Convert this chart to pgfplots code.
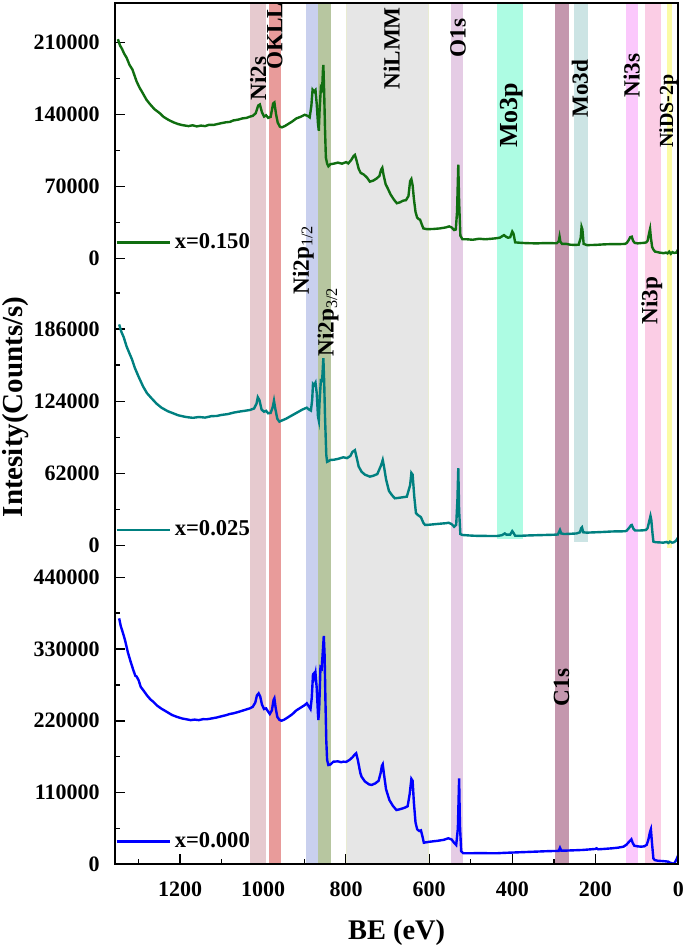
\documentclass[border=0pt]{standalone}
\usepackage{pgfplots}
\pgfplotsset{compat=1.18}
\usepackage{fontspec}
\setmainfont{Liberation Serif}

\definecolor{bNiTwoS}{HTML}{E6CACF}
\definecolor{bOKLL}{HTML}{E89B9A}
\definecolor{bNiPa}{HTML}{C9D0EE}
\definecolor{bNiPb}{HTML}{B7C6A0}
\definecolor{bLMM}{HTML}{E6E6E6}
\definecolor{bLMMedge}{HTML}{E9ECD2}
\definecolor{bOs}{HTML}{E5CCE5}
\definecolor{bMoP}{HTML}{ADFCE3}
\definecolor{bCs}{HTML}{C497AE}
\definecolor{bMoD}{HTML}{CCE4E4}
\definecolor{bNiThS}{HTML}{FBC8FC}
\definecolor{bNiThP}{HTML}{FBCDE5}
\definecolor{bDS}{HTML}{FBFBA5}
\definecolor{cgreen}{RGB}{16,110,16}
\definecolor{cteal}{RGB}{0,128,128}
\definecolor{cblue}{RGB}{0,0,255}

\newcommand{\band}[3]{\addplot[fill=#3, draw=none, forget plot] coordinates {(#1,-1e6) (#1,1e6) (#2,1e6) (#2,-1e6)} -- cycle;}
\newcommand{\bandlo}[4]{\addplot[fill=#4, draw=none, forget plot] coordinates {(#1,#3) (#1,1e6) (#2,1e6) (#2,#3)} -- cycle;}

\tikzset{blab/.style={rotate=90, anchor=west, inner sep=0pt, font=\bfseries\fontsize{11.6}{11.6}\selectfont}}

\pgfplotsset{
  panel/.style={
    scale only axis, width=281.65pt,
    xmin=0, xmax=1357, x dir=reverse,
    scaled x ticks=false, scaled y ticks=false,
    axis line style={draw=none},
    tick align=inside, xtick pos=bottom, ytick pos=left,
    major tick length=5pt, minor tick length=2.5pt,
    every tick/.style={black, line width=0.75pt},
    yticklabel style={inner sep=0pt, xshift=-7.5pt, font=\bfseries\fontsize{11}{11}\selectfont},
    xticklabel style={inner sep=0pt, yshift=-8.7pt, font=\bfseries\fontsize{11}{11}\selectfont},
    legend style={draw=none, fill=none, inner xsep=0pt, inner ysep=0pt, anchor=west,
      font=\bfseries\fontsize{11.3}{11.3}\selectfont},
    legend image code/.code={\draw[##1, line width=1.2pt] (0pt,0pt) -- (26.5pt,0pt);},
  },
}

\begin{document}
\begin{tikzpicture}
\useasboundingbox (-57.5pt,-42.35pt) rectangle (285pt,432.15pt);

% ---------------- top panel ----------------
\begin{axis}[panel, at={(0,292.15pt)}, anchor=south west, height=138.5pt,
  ymin=-21097, ymax=248203, xtick=\empty,
  ytick={0,70000,140000,210000}, yticklabels={0,70000,140000,210000},
  minor ytick={35000,105000,175000},
  legend style={at={(rel axis cs:0,0.136)}}]
\band{1032}{994}{bNiTwoS}
\band{987}{957}{bOKLL}
\band{898}{868}{bNiPa}
\band{867}{837}{bNiPb}
\addplot[fill=bLMM, draw=bLMMedge, line width=0.6pt, forget plot] coordinates {(799,-1e6) (799,1e6) (602,1e6) (602,-1e6)} -- cycle;
\band{548}{518}{bOs}
\band{436}{375}{bMoP}
\band{296}{263}{bCs}
\band{251}{217}{bMoD}
\band{127}{97}{bNiThS}
\band{80}{42}{bNiThP}
\band{28}{16}{bDS}
\addplot[cgreen, line width=1.2pt] table {
1350 213000
1345 207000
1340 203500
1335 199000
1329 195000
1322 188000
1315 183500
1305 172000
1298 166000
1290 160500
1281 154000
1272 149500
1262 145000
1249 141000
1240 137500
1228 134500
1215 132000
1205 130500
1195 129500
1180 128500
1170 129300
1160 128200
1150 129000
1140 128500
1130 129800
1120 129600
1105 131000
1090 132200
1080 132600
1072 134000
1060 134800
1050 136000
1040 136500
1032 137700
1025 138500
1018 141000
1012 148500
1008 149500
1003 142000
998 137800
993 139000
988 136500
982 137500
976 150500
973 151500
969 140000
965 132000
960 128000
955 127300
948 128500
940 130500
930 133000
920 136000
910 137500
900 139500
893 138500
888 137000
884 148000
881 164000
877 162000
874 163500
871 150000
868 131000
866 124000
864 145000
861 166000
858 164000
856 183000
855 188000
853 160000
851 125000
849 98000
846 92000
843 89500
838 91500
830 92000
820 93000
810 92000
800 93500
795 92200
788 95500
782 99500
779 100500
775 95000
770 87000
765 83000
758 81500
750 78500
743 74500
735 75500
727 77500
720 80000
716 86000
713 88000
710 81000
705 72000
700 68000
693 62000
685 57000
678 53500
670 54500
663 56000
656 56500
650 60500
646 75000
643 77000
640 71000
637 58000
633 45000
629 39500
625 38000
622 37500
618 33000
614 29000
605 28300
590 28500
575 29000
560 30000
552 31000
546 30000
540 27500
536 28000
533 45000
530 91000
528 55000
525 22000
520 18500
510 18500
495 18000
480 19000
465 18500
450 19000
440 19400
430 20000
420 22500
415 21000
410 20000
405 20500
400 26000
397 24000
393 15500
385 15200
370 14800
355 14600
340 14500
320 14800
305 14700
293 14600
288 16500
286 21000
284 16000
280 14000
270 14000
260 13200
250 13000
240 13200
235 20000
233 30500
231 28000
228 14000
220 12800
200 13000
180 13500
160 13800
140 13800
128 14000
124 15000
119 18000
116 20500
112 21000
109 17000
105 15000
98 14500
90 14800
82 15000
77 15500
74 17000
70 25000
68 28500
66 20000
63 11000
60 8500
56 6500
50 6000
45 5500
40 5300
36 4900
30 5500
26 4800
22 6500
18 4300
14 6000
10 5200
5 5500
2 7500
0 8700
};
\addlegendentry{x=0.150}
\end{axis}

% ---------------- middle panel ----------------
\begin{axis}[panel, at={(0,151.15pt)}, anchor=south west, height=141pt,
  ymin=-13997, ymax=228157, xtick=\empty,
  ytick={0,62000,124000,186000}, yticklabels={0,62000,124000,186000},
  minor ytick={31000,93000,155000,217000},
  ylabel={Intesity(Counts/s)},
  ylabel style={font=\bfseries\fontsize{14.5}{14.5}\selectfont, at={(axis description cs:-0.177,0.55)}, anchor=center},
  legend style={at={(rel axis cs:0,0.114)}}]
\band{1032}{994}{bNiTwoS}
\band{987}{957}{bOKLL}
\band{898}{868}{bNiPa}
\band{867}{837}{bNiPb}
\addplot[fill=bLMM, draw=bLMMedge, line width=0.6pt, forget plot] coordinates {(799,-1e6) (799,1e6) (602,1e6) (602,-1e6)} -- cycle;
\band{548}{518}{bOs}
\bandlo{436}{375}{5750}{bMoP}
\band{296}{263}{bCs}
\bandlo{251}{217}{3400}{bMoD}
\band{127}{97}{bNiThS}
\band{80}{42}{bNiThP}
\bandlo{28}{16}{-2000}{bDS}
\addplot[cteal, line width=1.2pt] table {
1347 190000
1342 184000
1336 179000
1329 171000
1322 165000
1316 160000
1309 152500
1300 145000
1289 136500
1280 131000
1270 127000
1257 122000
1245 118500
1230 115500
1217 113700
1205 112000
1190 110800
1180 110200
1169 109800
1155 110500
1140 110000
1125 111200
1112 111400
1100 112300
1085 113000
1072 114200
1060 115000
1045 115800
1032 116500
1022 117800
1016 122000
1013 127500
1009 125000
1004 117000
998 115000
993 115800
988 113700
982 114000
977 119000
974 124500
971 118000
966 109000
961 106500
955 107500
945 109000
936 110800
925 113000
915 115000
905 117000
895 118500
890 117000
885 116000
882 125000
880 139000
877 138000
874 140000
871 131000
868 111000
866 107500
864 125000
861 142000
858 141500
856 155000
855 161000
853 140000
851 110000
848 78000
846 72000
843 72500
838 73600
830 73800
820 74500
807 75900
798 75200
790 77000
785 80500
779 82000
775 76000
770 68000
763 63500
755 61000
743 59300
735 60000
725 61500
716 69000
712 73600
709 68000
704 57000
697 47000
690 43500
683 40700
675 41000
665 41500
654 42100
646 52000
643 62500
640 61000
636 42000
632 28000
628 26500
624 25500
620 24500
614 19500
610 17800
600 18000
585 18500
570 19000
560 19300
553 19700
546 18500
540 16300
535 18000
532 40000
530 66500
528 30000
525 10000
520 9200
505 8800
490 8500
470 8400
450 8300
437 8300
425 9000
418 10500
414 9500
405 9500
400 12500
397 11000
393 8500
380 8500
360 8800
340 9000
320 9200
300 9400
290 9600
287 12000
285 13500
282 10500
275 10000
260 10200
245 10500
237 11500
234 15000
232 15800
229 11500
220 11200
200 11500
180 11800
160 12200
140 12300
128 12400
124 13000
118 15500
114 17500
112 17800
108 14500
104 13000
95 13000
85 13200
78 13500
74 15000
70 21000
67 25500
65 22000
62 10000
60 3500
55 3000
45 2800
36 2600
28 3200
24 2300
20 3500
15 2600
10 3000
5 4500
2 6200
0 7200
};
\addlegendentry{x=0.025}
\end{axis}

% ---------------- bottom panel ----------------
\begin{axis}[panel, at={(0,0)}, anchor=south west, height=151.15pt,
  ymin=0, ymax=463426,
  ytick={0,110000,220000,330000,440000}, yticklabels={0,110000,220000,330000,440000},
  minor ytick={55000,165000,275000,385000},
  xtick={0,200,400,600,800,1000,1200}, xticklabels={0,200,400,600,800,1000,1200},
  minor xtick={100,300,500,700,900,1100,1300},
  xlabel={BE (eV)},
  xlabel style={font=\bfseries\fontsize{14.2}{14.2}\selectfont, at={(axis description cs:0.5,-0.225)}, anchor=center},
  legend style={at={(rel axis cs:0,0.075)}}]
\band{1032}{994}{bNiTwoS}
\band{987}{957}{bOKLL}
\band{898}{868}{bNiPa}
\band{867}{837}{bNiPb}
\addplot[fill=bLMM, draw=bLMMedge, line width=0.6pt, forget plot] coordinates {(799,-1e6) (799,1e6) (602,1e6) (602,-1e6)} -- cycle;
\band{548}{518}{bOs}
\band{296}{263}{bCs}
\band{127}{97}{bNiThS}
\band{80}{42}{bNiThP}
\addplot[cblue, line width=1.2pt] table {
1347 377000
1343 365000
1338 355000
1333 344000
1326 325000
1320 312000
1313 298000
1308 289000
1305 288000
1300 282000
1295 272000
1289 267000
1280 259000
1272 253000
1265 249300
1255 243000
1245 238500
1233 234000
1220 229000
1208 226000
1195 223500
1185 222300
1175 221000
1165 221800
1155 221000
1145 222500
1136 222300
1125 223500
1112 225000
1100 227000
1090 228500
1080 230500
1072 231400
1060 233500
1050 235500
1040 237500
1032 239100
1025 241500
1019 248000
1015 259000
1011 262000
1007 257000
1003 245000
998 238000
993 239000
988 234000
984 230400
979 236000
975 252000
973 254500
970 240000
966 226000
961 221500
956 220100
950 221500
940 225500
930 230000
920 236000
910 240000
900 244000
895 246800
890 242000
886 238000
883 255000
880 291000
878 292500
876 287000
874 293000
871 270000
868 230000
867 221200
865 240000
862 302000
859 300000
856 330000
854 350000
852 320000
850 250000
848 190000
846 160000
843 152200
838 153000
831 157300
820 157800
812 156500
807 157300
800 157000
792 160000
785 164000
779 168500
776 170200
772 160000
766 140000
763 134300
755 127000
745 122500
739 121600
730 124000
722 128000
717 140000
714 151000
712 153300
709 138000
704 115000
696 98600
688 90000
679 83200
670 84500
660 86500
652 89000
647 108000
643 131000
640 128000
637 95000
633 64000
629 53700
624 51000
620 52000
616 42000
613 33100
600 34500
580 36000
565 37500
554 39900
546 38000
540 33000
535 29600
531 55000
528 131800
526 60000
523 20000
518 17000
500 16900
480 17200
460 17000
438 16900
420 17500
400 18000
380 18500
360 19000
340 19500
320 20000
300 20400
288 20500
285 25300
282 21000
270 21000
250 21500
230 22000
210 23000
200 23500
197 24500
193 23000
180 23500
160 24500
145 25500
132 27000
125 30000
118 35000
113 38300
110 33000
106 28500
98 27500
90 27000
82 27500
76 30000
72 38000
68 50000
66 53700
63 30000
60 9000
57 6600
50 5500
40 5000
30 4500
24 4000
20 2500
15 1500
12 500
8 3000
4 8000
0 14300
};
\addlegendentry{x=0.000}
\end{axis}

% ---------------- frame and band labels ----------------
\begin{axis}[scale only axis, at={(0,0)}, anchor=south west, width=281.65pt, height=430.65pt,
  xmin=0, xmax=1357, x dir=reverse, ymin=0, ymax=861.3,
  xtick=\empty, ytick=\empty, axis line style={line width=1pt}, clip=false]
\node[blab] at (axis cs:1012,763.3) {Ni2s};
\node[blab] at (axis cs:971.8,794.3) {OKLL};
\node[blab] at (axis cs:903.6,569.3) {Ni2p\textsubscript{\mdseries 1/2}};
\node[blab] at (axis cs:844,507.3) {Ni2p\textsubscript{\mdseries 3/2}};
\node[blab] at (axis cs:690.6,774.3) {NiLMM};
\node[blab] at (axis cs:530.8,806.3) {O1s};
\node[blab, font=\bfseries\fontsize{13}{13}\selectfont] at (axis cs:401.4,716.3) {Mo3p};
\node[blab] at (axis cs:236.9,746.3) {Mo3d};
\node[blab] at (axis cs:112.3,766.3) {Ni3s};
\node[blab, font=\bfseries\fontsize{10}{10}\selectfont] at (axis cs:24.1,716.3) {NiDS-2p};
\node[blab] at (axis cs:64.1,539.3) {Ni3p};
\node[blab] at (axis cs:281,157.6) {C1s};
\end{axis}
\end{tikzpicture}
\end{document}
